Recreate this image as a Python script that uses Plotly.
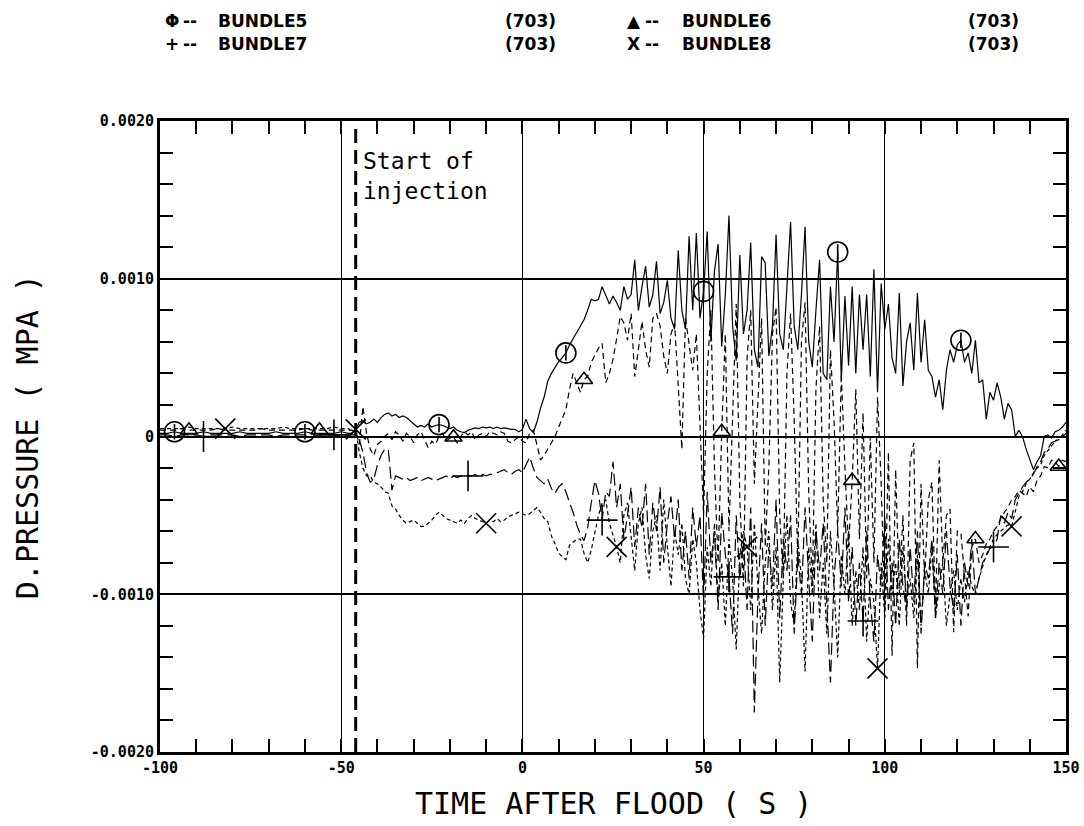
import plotly.graph_objects as go

# ---------------- data (pressure values in units of 1e-4 MPa) ----------------
T_PRE = list(range(-100, -47, 2))      # -100 .. -48 (2 s steps, quiet period)
T_MAIN = list(range(-47, 151))         # -47 .. 150 (1 s steps)
TIME = T_PRE + T_MAIN
UNIT = 1e-4  # MPa

B5_PRE = [0.2, 0.2, 0.3, 0.2, 0.2, 0.2, 0.3, 0.2, 0.2, 0.2, 0.2, 0.3, 0.2, 0.2,
          0.2, 0.2, 0.3, 0.2, 0.2, 0.2, 0.3, 0.2, 0.2, 0.2, 0.2, 0.3, 0.2]
B6_PRE = [0.4, 0.4, 0.4, 0.5, 0.4, 0.4, 0.4, 0.4, 0.5, 0.4, 0.4, 0.4, 0.4, 0.4,
          0.5, 0.4, 0.4, 0.4, 0.4, 0.4, 0.5, 0.4, 0.4, 0.4, 0.4, 0.4, 0.4]
B7_PRE = [0.1, 0.1, 0.0, 0.1, 0.1, 0.1, 0.0, 0.1, 0.1, 0.1, 0.1, 0.0, 0.1, 0.1,
          0.1, 0.1, 0.0, 0.1, 0.1, 0.1, 0.1, 0.0, 0.1, 0.1, 0.1, 0.0, 0.1]
B8_PRE = [0.5, 0.5, 0.5, 0.5, 0.6, 0.5, 0.5, 0.5, 0.5, 0.5, 0.6, 0.5, 0.5, 0.5,
          0.5, 0.5, 0.5, 0.6, 0.5, 0.5, 0.5, 0.5, 0.5, 0.5, 0.6, 0.5, 0.5]

B5_MAIN = [
    0.2, 0.5, 0.9, 1.0, 0.8, 0.9, 1.1, 0.9, 1.2, 1.4,
    1.5, 1.3, 1.4, 1.2, 1.3, 1.2, 1.0, 0.8, 0.6, 0.7,
    0.6, 0.8, 0.6, 0.7, 0.75, 0.7, 0.6, 0.5, 0.6, 0.4,
    0.3, 0.25, 0.4, 0.5, 0.55, 0.5, 0.6, 0.55, 0.6, 0.5,
    0.6, 0.5, 0.55, 0.5, 0.45, 0.45, 0.3, 0.45, 1.1, 0.5,
    0.25, 0.9, 1.8, 2.5, 3.5, 4.0, 4.4, 4.75, 5.0, 5.3,
    5.8, 6.2, 6.6, 7.0, 7.4, 8.0, 8.7, 8.6, 8.7, 9.5,
    9.0, 8.4, 8.9, 8.5, 8.0, 9.5, 8.7, 9.0, 11.2, 8.0,
    9.5, 10.8, 8.2, 9.0, 11.1, 7.8, 8.5, 9.9, 7.5, 6.8,
    11.8, 8.0, 6.8, 12.7, 8.0, 12.9, 7.5, 9.2, 13.0, 6.0,
    10.5, 12.2, 5.7, 9.0, 14.0, 7.0, 4.8, 11.5, 6.5, 8.0,
    12.3, 5.5, 4.4, 11.4, 11.0, 5.1, 7.0, 12.8, 6.5, 5.5,
    9.5, 13.6, 7.0, 5.5, 9.0, 13.3, 6.0, 4.4, 8.0, 11.2,
    4.0, 3.6, 9.5, 6.0, 11.7, 3.6, 8.9, 4.5, 9.5, 4.0,
    9.0, 5.5, 9.0, 3.8, 10.6, 2.8, 9.7, 6.8, 8.4, 5.0,
    4.0, 9.1, 3.2, 6.0, 7.2, 4.2, 9.1, 4.7, 7.4, 4.2,
    3.8, 2.5, 3.6, 1.7, 4.2, 5.5, 4.7, 5.8, 6.1, 4.7,
    5.3, 4.0, 6.1, 3.4, 3.6, 1.1, 2.8, 2.3, 3.4, 2.5,
    1.1, 2.1, 1.7, 0.0, 0.4, 0.0, -0.8, -1.4, -2.1, -1.6,
    -1.2, 0.0, 0.1, -0.1, 0.3, 0.4, 0.6, 0.9]

B6_MAIN = [
    0.4, 0.3, -0.5, 1.9, 0.2, -0.8, -1.2, -0.5, -0.3, 0.0,
    0.2, -0.2, 0.3, 0.1, -0.3, 0.2, 0.0, -0.4, 0.1, 0.3,
    -0.2, -0.7, -0.3, -0.5, 0.0, 0.2, -0.3, -0.1, -0.05, -0.4,
    0.0, 0.3, 0.1, 0.3, -0.2, 0.1, 0.2, 0.0, 0.3, 0.2,
    0.1, 0.3, 0.2, -0.3, -0.4, -0.2, 0.0, -0.3, -0.4, 0.2,
    0.4, -0.5, -1.5, -1.2, -0.8, -0.4, 0.0, 0.6, 1.2, 1.7,
    3.0, 4.0, 3.4, 2.8, 3.6, 3.8, 4.7, 5.2, 5.6, 5.9,
    3.4, 4.0, 4.9, 6.2, 7.6, 7.2, 6.1, 7.8, 3.8, 5.5,
    7.3, 5.5, 4.4, 7.5, 7.8, 7.0, 5.1, 4.0, 6.5, 7.2,
    3.0, -0.8, 7.5, 6.0, 4.2, 6.5, 0.5, -5.0, 4.0, 8.0,
    -2.0, -8.0, 0.3, 6.5, -6.0, 2.0, 8.4, -4.0, -9.5, 5.0,
    8.0, -3.0, 2.0, 7.5, -7.0, -2.0, 6.5, 8.2, -5.0, -9.0,
    4.0, 7.8, 1.0, -8.0, 6.0, 8.5, -3.5, -9.5, 3.0, 7.0,
    -4.0, -8.0, 5.5, 1.0, -6.0, 4.0, -2.0, -7.0, -2.8, 3.0,
    -6.5, 1.5, -9.0, 0.0, -8.0, 2.5, -3.0, -11.0, -1.0, -13.9,
    -2.1, -10.0, -5.0, -12.0, -1.5, -0.4, -14.7, -3.0, -9.0, -4.0,
    -2.9, -11.0, -1.5, -8.0, -5.0, -4.6, -12.4, -6.0, -6.1, -9.0,
    -11.4, -7.0, -6.5, -8.0, -7.5, -6.8, -6.5, -6.0, -5.7, -5.2,
    -4.8, -4.5, -4.0, -3.8, -3.4, -3.6, -3.8, -3.2, -3.5, -2.8,
    -2.5, -1.9, -2.0, -1.5, -1.6, -1.9, -1.5, -1.6]

B7_MAIN = [
    0.1, 0.1, -0.2, -1.0, -2.3, -2.9, -2.7, -1.8, -1.2, -0.8,
    -0.8, -3.4, -2.5, -2.6, -2.7, -2.6, -2.8, -2.7, -2.6, -2.8,
    -2.7, -2.6, -2.7, -2.8, -2.7, -2.6, -2.5, -2.7, -2.5, -2.6,
    -2.5, -2.4, -2.5, -2.5, -2.4, -2.6, -2.4, -2.5, -2.4, -2.4,
    -2.3, -2.2, -2.1, -2.3, -2.4, -2.2, -2.1, -2.3, -1.8, -1.3,
    -2.0, -2.6, -2.8, -3.0, -2.7, -3.3, -3.6, -3.2, -3.0, -3.5,
    -4.2, -4.8, -5.6, -6.2, -6.6, -5.8, -4.2, -2.8, -3.6, -5.3,
    -3.5, -3.8, -1.6, -4.5, -3.0, -6.5, -5.0, -3.2, -7.0, -4.5,
    -5.8, -3.0, -7.5, -4.2, -6.0, -3.2, -8.0, -5.5, -3.8, -6.5,
    -4.0, -8.5, -6.0, -9.0, -4.5, -7.0, -5.0, -10.5, -3.5, -8.0,
    -6.0, -11.0, -4.8, -7.5, -8.9, -12.5, -5.0, -9.0, -6.5, -11.0,
    -4.5, -17.5, -10.0, -5.5, -12.0, -7.0, -9.5, -4.0, -11.5, -6.5,
    -8.5, -5.0, -12.5, -7.5, -10.0, -4.5, -9.0, -13.0, -6.0, -8.5,
    -5.5, -11.0, -15.6, -9.0, -6.0, -9.5, -4.5, -10.5, -7.0, -12.0,
    -8.0, -11.7, -6.0, -10.5, -13.0, -7.5, -9.5, -5.0, -11.0, -8.0,
    -12.0, -6.5, -9.5, -11.0, -7.0, -10.5, -6.0, -12.5, -8.0, -9.0,
    -6.5, -11.5, -8.0, -10.0, -6.0, -9.5, -11.0, -7.5, -12.0, -8.0,
    -9.5, -6.5, -10.0, -9.0, -8.0, -7.6, -7.1, -7.0, -6.5, -5.0,
    -5.5, -4.8, -5.2, -4.0, -3.6, -3.2, -2.9, -2.7, -2.4, -1.9,
    -1.6, -1.0, -0.8, -0.4, -0.3, -0.1, 0.0, 0.2]

B8_MAIN = [
    0.3, 0.45, -1.0, -2.0, -2.5, -2.5, -2.9, -3.0, -3.2, -3.5,
    -3.6, -4.4, -4.6, -5.0, -5.3, -5.5, -5.4, -5.3, -5.5, -5.7,
    -5.7, -5.5, -5.3, -5.0, -4.8, -5.0, -5.2, -5.3, -5.4, -5.5,
    -5.3, -5.5, -5.2, -5.0, -5.2, -5.3, -5.4, -5.5, -5.3, -5.4,
    -5.2, -5.4, -5.3, -5.1, -5.0, -4.9, -4.8, -4.9, -5.0, -4.9,
    -4.7, -4.5, -4.8, -5.2, -5.4, -6.3, -6.8, -7.4, -7.6, -7.8,
    -6.9, -6.7, -6.5, -6.5, -7.4, -8.0, -7.2, -6.1, -5.0, -4.2,
    -4.0, -5.5, -6.2, -7.0, -8.0, -5.0, -4.2, -6.5, -8.5, -5.5,
    -4.5, -7.5, -9.0, -6.0, -5.0, -8.5, -4.0, -7.0, -9.5, -6.0,
    -7.5, -5.5, -9.0, -10.0, -6.5, -8.0, -11.0, -12.8, -7.0, -9.5,
    -5.5, -10.5, -8.0, -12.0, -6.5, -9.0, -13.5, -7.5, -6.0, -7.0,
    -11.0, -5.5, -9.5, -12.5, -8.0, -6.0, -11.0, -7.0, -15.6, -9.0,
    -5.0, -10.5, -12.0, -6.5, -9.0, -14.9, -7.0, -10.0, -5.5, -11.5,
    -8.0, -12.5, -6.0, -9.5, -14.0, -7.5, -10.0, -6.0, -12.0, -8.5,
    -11.0, -7.0, -13.0, -9.0, -10.5, -14.7, -8.0, -11.5, -6.5, -10.0,
    -8.0, -12.0, -7.0, -10.5, -9.0, -11.5, -7.5, -12.0, -8.5, -10.0,
    -7.0, -11.5, -9.5, -8.0, -12.0, -10.0, -8.5, -11.0, -9.0, -10.5,
    -8.5, -9.5, -10.0, -9.0, -8.3, -7.5, -7.0, -6.5, -6.2, -6.0,
    -5.8, -5.6, -5.7, -4.8, -3.8, -3.5, -3.0, -2.7, -2.3, -2.0,
    -1.8, -1.2, -0.9, -0.6, -0.3, -0.2, 0.1, 0.4]

# times at which the plotter drew each curve's symbol
B5_MARK_T = [-96, -60, -23, 12, 50, 87, 121]
B6_MARK_T = [-92, -56, -19, 17, 55, 91, 125, 148]
B7_MARK_T = [-88, -52, -15, 22, 57, 94, 130]
B8_MARK_T = [-82, -46, -10, 26, 62, 98, 135]

INJECTION_T = -46

SERIES_NAMES = ["BUNDLE5", "BUNDLE6", "BUNDLE7", "BUNDLE8"]
SERIES_COUNTS = ["(703)", "(703)", "(703)", "(703)"]

X_TICKS = [-100, -50, 0, 50, 100, 150]
X_TICK_TEXT = ["-100", "-50", "0", "50", "100", "150"]
Y_TICKS = [-0.002, -0.001, 0, 0.001, 0.002]
Y_TICK_TEXT = ["-0.0020", "-0.0010", "0", "0.0010", "0.0020"]

# ---------------- build ----------------
series = [
    (B5_PRE + B5_MAIN, B5_MARK_T, "solid", "circle-open", 20),
    (B6_PRE + B6_MAIN, B6_MARK_T, "6px,4px", "triangle-up-open", 15),
    (B7_PRE + B7_MAIN, B7_MARK_T, "12px,5px", "cross-thin-open", 22),
    (B8_PRE + B8_MAIN, B8_MARK_T, "4px,3px", "x-thin-open", 20),
]
for vals, _, _, _, _ in series:
    assert len(vals) == len(TIME), (len(vals), len(TIME))

fig = go.Figure()
for (vals, mt, dash, sym, size), name in zip(series, SERIES_NAMES):
    y = [v * UNIT for v in vals]
    fig.add_trace(go.Scatter(x=TIME, y=y, mode="lines", name=name,
                             line=dict(color="black", width=1.2, dash=dash),
                             showlegend=False))
    my = [y[TIME.index(t)] for t in mt]
    fig.add_trace(go.Scatter(x=mt, y=my, mode="markers", showlegend=False,
                             marker=dict(symbol=sym, size=size, color="black",
                                         line=dict(color="black", width=1.6))))
    if sym == "circle-open":
        fig.add_trace(go.Scatter(x=mt, y=my, mode="markers", showlegend=False,
                                 marker=dict(symbol="line-ns-open", size=11,
                                             color="black",
                                             line=dict(color="black", width=1.6))))

# start of injection line
fig.add_shape(type="line", xref="x", yref="y", x0=INJECTION_T, x1=INJECTION_T,
              y0=-0.002, y1=0.00195,
              line=dict(color="black", width=3, dash="14px,7px"))
fig.add_annotation(x=INJECTION_T + 1.5, y=0.00184, xref="x", yref="y",
                   text="Start of<br>injection", showarrow=False,
                   xanchor="left", yanchor="top", align="left",
                   font=dict(family="DejaVu Sans Mono", size=23, color="black"))

# header legend (symbol, dashes, name, count)
hfont = dict(family="DejaVu Sans", size=17, color="black", weight="bold")
sym_chars = ["Φ", "▲", "+", "X"]
sym_px = [163, 625]
dash_px = [181, 643]
name_px = [216, 680]
cnt_px = [503, 966]
row_px = [21, 44]
PW, PL, PT, PH = 906, 160, 121, 631
for i, (nm, cnt) in enumerate(zip(SERIES_NAMES, SERIES_COUNTS)):
    r, c = divmod(i, 2)
    yy = 1 + (PT - row_px[r]) / PH
    for txt, px in ((sym_chars[i], sym_px[c]), ("--", dash_px[c]),
                    (nm, name_px[c]), (cnt, cnt_px[c])):
        fig.add_annotation(x=(px - PL) / PW, y=yy, xref="paper", yref="paper",
                           text=txt, showarrow=False, xanchor="left",
                           yanchor="middle", font=hfont)

# axis titles
fig.add_annotation(x=0.5, y=-0.082, xref="paper", yref="paper",
                   text="TIME AFTER FLOOD ( S )", showarrow=False,
                   xanchor="center", yanchor="middle",
                   font=dict(family="DejaVu Sans Mono", size=30, color="black"))
fig.add_annotation(x=-0.146, y=0.5, xref="paper", yref="paper",
                   text="D.PRESSURE ( MPA )", showarrow=False, textangle=-90,
                   xanchor="center", yanchor="middle",
                   font=dict(family="DejaVu Sans Mono", size=30, color="black"))

tickfont = dict(family="DejaVu Sans Mono", size=15, color="black", weight="bold")
fig.update_xaxes(range=[-100, 150], tickmode="array", tickvals=X_TICKS,
                 ticktext=X_TICK_TEXT, showgrid=True, gridcolor="black",
                 gridwidth=1, zeroline=False, showline=True, linecolor="black",
                 linewidth=3, mirror="allticks", ticks="inside", ticklen=13,
                 tickwidth=2, tickcolor="black", tickfont=tickfont,
                 minor=dict(tickmode="linear", tick0=0, dtick=10, ticks="inside",
                            ticklen=13, tickwidth=2, tickcolor="black",
                            showgrid=False))
fig.update_yaxes(range=[-0.002, 0.002], tickmode="array", tickvals=Y_TICKS,
                 ticktext=Y_TICK_TEXT, showgrid=True, gridcolor="black",
                 gridwidth=1.6, zeroline=False, showline=True, linecolor="black",
                 linewidth=3, mirror="allticks", ticks="inside", ticklen=13,
                 tickwidth=2, tickcolor="black", tickfont=tickfont,
                 minor=dict(tickmode="linear", tick0=0, dtick=0.0002,
                            ticks="inside", ticklen=13, tickwidth=2,
                            tickcolor="black", showgrid=False))

fig.update_layout(width=1084, height=826, plot_bgcolor="white",
                  paper_bgcolor="white",
                  margin=dict(l=160, r=18, t=121, b=74, autoexpand=False),
                  showlegend=False)

fig.write_html("out.html")
